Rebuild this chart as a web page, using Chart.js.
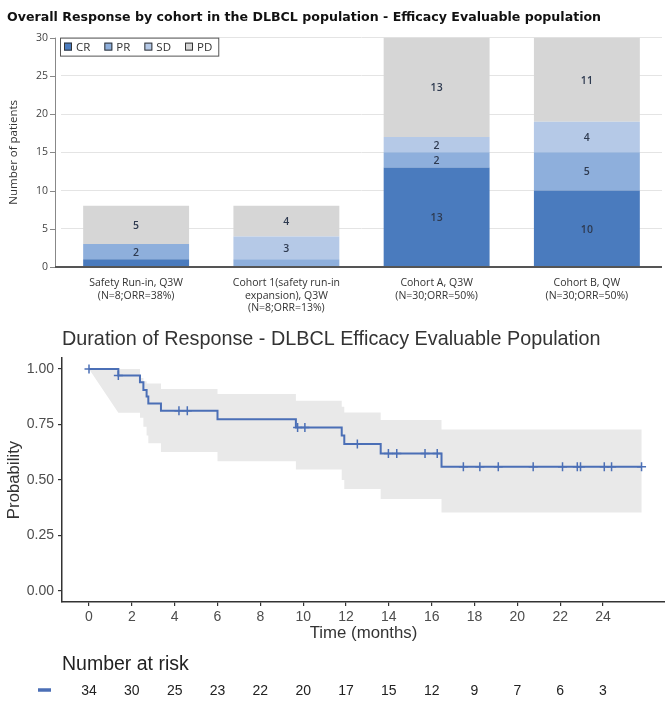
<!DOCTYPE html>
<html><head><meta charset="utf-8">
<script src="https://cdn.jsdelivr.net/npm/chart.js@4.4.1/dist/chart.umd.min.js"></script>
<style>
html,body{margin:0;padding:0;background:#fff;}
#wrap{position:relative;width:665px;height:702px;overflow:hidden;}
#c1{position:absolute;left:0;top:0;}
#c2{position:absolute;left:0;top:318px;}
</style></head><body>
<div id="wrap"><canvas id="c1" width="665" height="318"></canvas><canvas id="c2" width="665" height="384"></canvas></div>
<script>
// ---------- Data: overall response ----------
const cohorts = [
  ["Safety Run-in, Q3W", "(N=8;ORR=38%)"],
  ["Cohort 1(safety run-in", "expansion), Q3W", "(N=8;ORR=13%)"],
  ["Cohort A, Q3W", "(N=30;ORR=50%)"],
  ["Cohort B, QW", "(N=30;ORR=50%)"]
];
const responseLabels = ["CR", "PR", "SD", "PD"];
const crCounts = [1, 0, 13, 10];
const prCounts = [2, 1, 2, 5];
const sdCounts = [0, 3, 2, 4];
const pdCounts = [5, 4, 13, 11];
const patientTicks = [0, 5, 10, 15, 20, 25, 30];

// ---------- Data: duration of response (Kaplan-Meier) ----------
const kmTimes = [0, 1.37, 2.38, 2.54, 2.69, 2.77, 3.36, 6.0, 9.66, 11.8, 11.92, 13.62, 16.46];
const kmSurv  = [1, 0.971, 0.941, 0.906, 0.876, 0.845, 0.812, 0.774, 0.737, 0.700, 0.662, 0.619, 0.560];
const kmUpper = [1, 1, 0.96, 0.945, 0.935, 0.935, 0.91, 0.887, 0.857, 0.83, 0.804, 0.77, 0.728];
const kmLower = [1, 0.803, 0.78, 0.74, 0.70, 0.665, 0.626, 0.584, 0.547, 0.50, 0.459, 0.414, 0.353];
const kmEnd = 25.8;
const censorTimes = [0, 1.37, 4.2, 4.59, 9.74, 10.08, 12.53, 13.98, 14.37, 15.69, 16.26, 17.48, 18.25, 19.11, 20.74, 22.11, 22.8, 22.95, 24.06, 24.4, 25.8];
const timeTicks = [0, 2, 4, 6, 8, 10, 12, 14, 16, 18, 20, 22, 24];
const probTicks = [0, 0.25, 0.5, 0.75, 1];
const riskTimes = [0, 2, 4, 6, 8, 10, 12, 14, 16, 18, 20, 22, 24];
const atRisk = [34, 30, 25, 23, 22, 20, 17, 15, 12, 9, 7, 6, 3];

// ---------- Styles ----------
const respColors = ["#4a7bbe", "#8eafdc", "#b5c9e7", "#d6d6d6"];
const kmBlue = "#4b6fb6";
const SANS = '"Liberation Sans", Arial, sans-serif';
const OPEN = '"Open Sans", "Noto Sans", sans-serif';

Chart.defaults.animation = false;

// ---------- Chart 1: stacked bars ----------
const barDecor = {
  id: 'barDecor',
  afterDatasetsDraw(chart) {
    const ctx = chart.ctx;
    ctx.save();
    ctx.font = '600 10.5px ' + OPEN;
    ctx.fillStyle = '#2e3a50';
    ctx.textAlign = 'center';
    ctx.textBaseline = 'middle';
    chart.data.datasets.forEach((ds, di) => {
      const meta = chart.getDatasetMeta(di);
      meta.data.forEach((bar, i) => {
        const v = ds.data[i];
        if (v < 2) return;
        ctx.fillText(String(v), bar.x, (bar.y + bar.base) / 2 + 1);
      });
    });
    ctx.restore();
  },
  afterDraw(chart) {
    const ctx = chart.ctx, ca = chart.chartArea, ys = chart.scales.y;
    const ax = ca.left - 6;
    ctx.save();
    ctx.strokeStyle = '#888'; ctx.lineWidth = 1;
    ctx.beginPath();
    ctx.moveTo(ax + 0.5, ys.getPixelForValue(30));
    ctx.lineTo(ax + 0.5, ys.getPixelForValue(0));
    patientTicks.forEach(v => {
      const y = Math.round(ys.getPixelForValue(v)) + 0.5;
      ctx.moveTo(ax - 5, y); ctx.lineTo(ax, y);
    });
    ctx.stroke();
    ctx.strokeStyle = '#555'; ctx.lineWidth = 2;
    ctx.beginPath();
    const y0 = ys.getPixelForValue(0);
    ctx.moveTo(ax, y0); ctx.lineTo(ca.right, y0);
    ctx.stroke();
    // legend
    const fx = ca.left - 1, fy = ca.top, fh = 18;
    ctx.font = '11.5px ' + OPEN;
    let x = fx + 4;
    const items = chart.data.datasets.map(d => ({ t: d.label, c: d.backgroundColor }));
    const widths = items.map(it => ctx.measureText(it.t).width);
    let total = 4;
    items.forEach((it, i) => { total += 8 + 4 + widths[i] + (i < items.length - 1 ? 14 : 6); });
    ctx.fillStyle = '#fff';
    ctx.fillRect(fx, fy, total, fh);
    ctx.strokeStyle = '#555'; ctx.lineWidth = 1;
    ctx.strokeRect(fx + 0.5, fy + 0.5, total, fh);
    ctx.textBaseline = 'middle'; ctx.textAlign = 'left';
    items.forEach((it, i) => {
      ctx.fillStyle = it.c;
      ctx.fillRect(x, fy + 5, 8, 8);
      ctx.strokeStyle = '#333';
      ctx.strokeRect(x + 0.5, fy + 5.5, 7, 7);
      ctx.fillStyle = '#333';
      ctx.fillText(it.t, x + 12, fy + fh / 2 + 1);
      x += 8 + 4 + widths[i] + 14;
    });
    ctx.restore();
  }
};

const seriesCounts = [crCounts, prCounts, sdCounts, pdCounts];
new Chart(document.getElementById('c1'), {
  type: 'bar',
  data: {
    labels: cohorts,
    datasets: responseLabels.map((lab, i) => ({
      label: lab,
      data: seriesCounts[i],
      backgroundColor: respColors[i],
      borderWidth: 0,
      categoryPercentage: 1,
      barPercentage: 0.705
    }))
  },
  options: {
    responsive: false,
    events: [],
    layout: { autoPadding: false, padding: { left: 7, right: 3, top: 0, bottom: 0 } },
    plugins: {
      legend: { display: false },
      tooltip: { enabled: false },
      title: {
        display: true, align: 'start',
        text: 'Overall Response by cohort in the DLBCL population - Efficacy Evaluable population',
        font: { family: '"DejaVu Sans", Verdana, sans-serif', size: 12.6, weight: 'bold' },
        color: '#111',
        padding: { top: 10, bottom: 12.5 }
      }
    },
    scales: {
      x: {
        stacked: true,
        grid: { display: false },
        border: { display: false },
        ticks: { font: { family: OPEN, size: 10.5 }, color: '#333', padding: 2, maxRotation: 0, autoSkip: false },
        afterFit(s) { s.height = 51; }
      },
      y: {
        stacked: true, min: 0, max: 30,
        afterBuildTicks(s) { s.ticks = patientTicks.map(v => ({ value: v })); },
        grid: { color: '#e4e4e4', drawTicks: false },
        border: { display: false },
        ticks: { font: { family: OPEN, size: 10.5 }, color: '#444', padding: 13 },
        title: { display: true, text: 'Number of patients', font: { family: OPEN, size: 11.5 }, color: '#333', padding: { top: 0, bottom: 0 } },
        afterFit(s) { s.width = 54; }
      }
    }
  },
  plugins: [barDecor]
});

// ---------- Chart 2: Kaplan-Meier ----------
function stepPoints(times, vals, end, diagonalFirst) {
  const pts = [{ x: times[0], y: vals[0] }];
  for (let i = 1; i < times.length; i++) {
    if (!(diagonalFirst && i === 1)) pts.push({ x: times[i], y: vals[i - 1] });
    pts.push({ x: times[i], y: vals[i] });
  }
  pts.push({ x: end, y: vals[vals.length - 1] });
  return pts;
}
function survAt(t) {
  let v = kmSurv[0];
  for (let i = 0; i < kmTimes.length; i++) if (kmTimes[i] <= t) v = kmSurv[i];
  return v;
}
const bandShape = stepPoints(kmTimes, kmUpper, kmEnd, false)
  .concat(stepPoints(kmTimes, kmLower, kmEnd, true).reverse());

const riskTable = {
  id: 'riskTable',
  afterDraw(chart) {
    const ctx = chart.ctx, xs = chart.scales.x, ca = chart.chartArea;
    ctx.save();
    ctx.fillStyle = '#222';
    ctx.textBaseline = 'middle';
    ctx.textAlign = 'left';
    ctx.font = '19.5px ' + SANS;
    ctx.fillText('Number at risk', ca.left, ca.bottom + 63);
    ctx.strokeStyle = kmBlue; ctx.lineWidth = 3.5;
    ctx.beginPath();
    ctx.moveTo(38, ca.bottom + 88); ctx.lineTo(51, ca.bottom + 88);
    ctx.stroke();
    ctx.font = '14px "Liberation Sans Narrow", ' + SANS;
    ctx.textAlign = 'center';
    ctx.fillStyle = '#222';
    riskTimes.forEach((t, i) => {
      ctx.fillText(String(atRisk[i]), xs.getPixelForValue(t), ca.bottom + 89);
    });
    ctx.restore();
  }
};

new Chart(document.getElementById('c2'), {
  type: 'line',
  data: {
    datasets: [
      { data: bandShape, fill: 'shape', backgroundColor: '#e9e9e9', borderColor: 'transparent', borderWidth: 0, pointRadius: 0, tension: 0, order: 3 },
      { data: stepPoints(kmTimes, kmSurv, kmEnd, false), borderColor: kmBlue, borderWidth: 2, pointRadius: 0, fill: false, tension: 0, order: 2 },
      { data: censorTimes.map(t => ({ x: t, y: survAt(t) })), showLine: false, pointStyle: 'cross', pointRadius: 4.5, pointBorderWidth: 1.5, pointBorderColor: kmBlue, borderColor: kmBlue, order: 1 }
    ]
  },
  options: {
    responsive: false,
    events: [],
    layout: { autoPadding: false, padding: { left: 0, right: 0, top: 0, bottom: 52 } },
    plugins: {
      legend: { display: false },
      tooltip: { enabled: false },
      title: {
        display: true, align: 'start', fullSize: false,
        text: 'Duration of Response - DLBCL Efficacy Evaluable Population',
        font: { family: SANS, size: 19.8, weight: 'normal' },
        color: '#333',
        padding: { top: 10, bottom: 6.2 }
      }
    },
    scales: {
      x: {
        type: 'linear', min: -1.2607, max: 26.895,
        afterBuildTicks(s) { s.ticks = timeTicks.map(v => ({ value: v })); },
        grid: { display: true, drawOnChartArea: false, drawTicks: true, tickLength: 4, color: '#333', lineWidth: 1.2 },
        border: { display: true, color: '#333', width: 1.5 },
        ticks: { font: { family: SANS, size: 14 }, color: '#4d4d4d', padding: 3, maxRotation: 0, callback: v => String(v) },
        title: { display: true, text: 'Time (months)', font: { family: SANS, size: 16.8 }, color: '#333', padding: { top: 0, bottom: 7 } },
        afterFit(s) { s.height = 48; }
      },
      y: {
        type: 'linear', min: -0.05, max: 1.05,
        afterBuildTicks(s) { s.ticks = probTicks.map(v => ({ value: v })); },
        grid: { display: true, drawOnChartArea: false, drawTicks: true, tickLength: 4, color: '#333', lineWidth: 1.2 },
        border: { display: true, color: '#333', width: 1.5 },
        ticks: { font: { family: SANS, size: 14 }, color: '#4d4d4d', padding: 4, callback: v => Number(v).toFixed(2) },
        title: { display: true, text: 'Probability', font: { family: SANS, size: 16.8 }, color: '#333', padding: { top: 4, bottom: 0 } },
        afterFit(s) { s.width = 62; }
      }
    }
  },
  plugins: [riskTable]
});
</script>
</body></html>
